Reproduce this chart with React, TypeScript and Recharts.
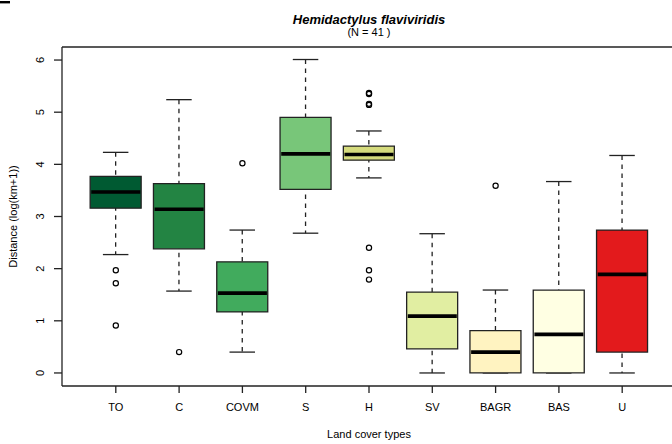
import React from "react";
import { Bar, Cell, ComposedChart, ReferenceLine, Scatter, XAxis, YAxis } from "recharts";

// boxplot stats, log(km+1) units
const categories = ["TO", "C", "COVM", "S", "H", "SV", "BAGR", "BAS", "U"];
const whiskerLow = [2.27, 1.57, 0.4, 2.68, 3.74, 0, 0, 0, 0];
const q1 = [3.16, 2.38, 1.17, 3.52, 4.08, 0.46, 0, 0, 0.4];
const medians = [3.47, 3.14, 1.53, 4.2, 4.19, 1.09, 0.4, 0.74, 1.89];
const q3 = [3.77, 3.63, 2.13, 4.9, 4.35, 1.55, 0.81, 1.59, 2.74];
const whiskerHigh = [4.23, 5.24, 2.74, 6.01, 4.64, 2.67, 1.59, 3.67, 4.17];

const outlierCats = ["TO", "TO", "TO", "C", "COVM", "H", "H", "H", "H", "H", "H", "H", "BAGR"];
const outlierValues = [1.97, 1.72, 0.91, 0.4, 4.02, 5.37, 5.35, 5.16, 5.14, 2.4, 1.97, 1.79, 3.59];

const yTicks = [0, 1, 2, 3, 4, 5, 6];

const fills = [
  "#005a32",
  "#238443",
  "#41ab5d",
  "#78c679",
  "#d5db7d",
  "#e1eea2",
  "#fff3c1",
  "#ffffe3",
  "#e31a1c",
];

const rows = categories.map((name, i) => ({
  name,
  pos: i + 1,
  whisker: [whiskerLow[i], whiskerHigh[i]],
  box: [q1[i], q3[i]],
  median: medians[i],
}));

const outlierRows = outlierCats.map((c, i) => ({
  pos: categories.indexOf(c) + 1,
  value: outlierValues[i],
}));

const X_DOMAIN: [number, number] = [0.15, 9.85];
const Y_DOMAIN: [number, number] = [-0.25, 6.25];
const BOX_SIZE = 51;
const INK = "#222";
const FONT = "'Liberation Sans', Arial, Helvetica, sans-serif";

function WhiskerShape(props: any) {
  const { x, y, width, height } = props;
  const cx = x + width / 2;
  const top = Math.min(y, y + height);
  const bottom = Math.max(y, y + height);
  const half = width / 4;
  return (
    <g stroke={INK} strokeWidth={1.3} fill="none">
      <line x1={cx} x2={cx} y1={top} y2={bottom} strokeDasharray="4.5 4.5" />
      <line x1={cx - half} x2={cx + half} y1={top} y2={top} />
      <line x1={cx - half} x2={cx + half} y1={bottom} y2={bottom} />
    </g>
  );
}

function MedianShape(props: any) {
  const { cx, cy } = props;
  return (
    <line
      x1={cx - BOX_SIZE / 2 + 1}
      x2={cx + BOX_SIZE / 2 - 1}
      y1={cy}
      y2={cy}
      stroke="#000"
      strokeWidth={3.6}
    />
  );
}

function OutlierShape(props: any) {
  const { cx, cy } = props;
  return <circle cx={cx} cy={cy} r={2.6} fill="none" stroke="#000" strokeWidth={1.2} />;
}

function YTick(props: any) {
  const { x, y, payload } = props;
  return (
    <text
      x={x}
      y={y}
      dy="0.36em"
      transform={`rotate(-90, ${x}, ${y})`}
      textAnchor="middle"
      fontSize={11}
      fontFamily={FONT}
      fill="#000"
    >
      {payload.value}
    </text>
  );
}

export default function App() {
  return (
    <div
      style={{
        position: "absolute",
        left: 0,
        top: 0,
        width: 672,
        height: 444,
        overflow: "hidden",
        background: "#fff",
      }}
    >
      <ComposedChart
        width={676}
        height={444}
        data={rows}
        margin={{ top: 47, right: 0, bottom: 0, left: 0 }}
      >
        <XAxis
          type="number"
          dataKey="pos"
          domain={X_DOMAIN}
          ticks={[1, 2, 3, 4, 5, 6, 7, 8, 9]}
          tickFormatter={(v: number) => categories[v - 1]}
          height={58}
          tickSize={7}
          tickMargin={10}
          stroke={INK}
          strokeWidth={1.3}
          tick={{ fontSize: 11, fontFamily: FONT, fill: "#000" }}
        />
        <XAxis xAxisId="w" type="number" dataKey="pos" domain={X_DOMAIN} hide />
        <YAxis
          type="number"
          domain={Y_DOMAIN}
          ticks={yTicks}
          width={62}
          tickSize={8}
          tickMargin={14}
          stroke={INK}
          strokeWidth={1.3}
          tick={<YTick />}
        />
        <ReferenceLine y={Y_DOMAIN[1]} stroke={INK} strokeWidth={1.3} />
        <Bar
          xAxisId="w"
          dataKey="whisker"
          barSize={BOX_SIZE}
          shape={<WhiskerShape />}
          isAnimationActive={false}
        />
        <Bar
          dataKey="box"
          barSize={BOX_SIZE}
          stroke={INK}
          strokeWidth={1.3}
          isAnimationActive={false}
        >
          {rows.map((r, i) => (
            <Cell key={r.name} fill={fills[i]} />
          ))}
        </Bar>
        <Scatter dataKey="median" shape={<MedianShape />} isAnimationActive={false} />
        <Scatter
          data={outlierRows}
          dataKey="value"
          shape={<OutlierShape />}
          isAnimationActive={false}
        />
      </ComposedChart>
      <svg
        width={672}
        height={444}
        style={{ position: "absolute", left: 0, top: 0, pointerEvents: "none" }}
        fontFamily={FONT}
      >
        <rect x={0} y={1} width={10} height={2.4} fill="#000" />
        <text x={369} y={23.5} textAnchor="middle" fontSize={13} fontWeight="bold" fontStyle="italic">
          Hemidactylus flaviviridis
        </text>
        <text x={369} y={36} textAnchor="middle" fontSize={11}>
          (N = 41 )
        </text>
        <text x={369} y={438} textAnchor="middle" fontSize={11}>
          Land cover types
        </text>
        <text
          x={13}
          y={216.5}
          dy="0.36em"
          transform="rotate(-90, 13, 216.5)"
          textAnchor="middle"
          fontSize={11}
        >
          Distance (log(km+1))
        </text>
      </svg>
    </div>
  );
}
